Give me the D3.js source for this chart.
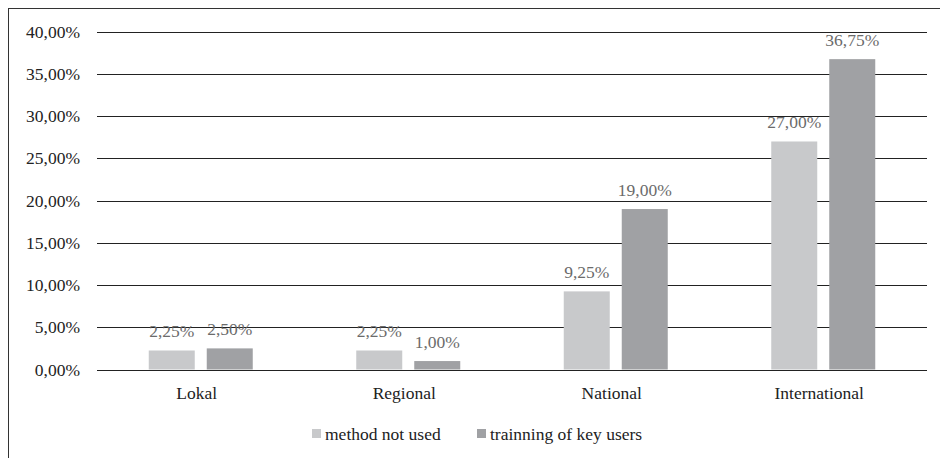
<!DOCTYPE html>
<html>
<head>
<meta charset="utf-8">
<script src="https://cdn.jsdelivr.net/npm/d3@7"></script>
<style>
  body { margin: 0; background: #fff; }
</style>
</head>
<body>
<svg id="chart"></svg>
<script>
// Data
const categories = ['Lokal', 'Regional', 'National', 'International'];
const seriesNames = ['method not used', 'trainning of key users'];
const methodNotUsed = [2.25, 2.25, 9.25, 27.00];
const trainningKeyUsers = [2.50, 1.00, 19.00, 36.75];
const yTicks = [0, 5, 10, 15, 20, 25, 30, 35, 40];

const colors = ['#c8c9cb', '#a0a1a4'];
const width = 940, height = 458;
const fontSize = 17.5;

const svg = d3.select('#chart')
    .attr('width', width)
    .attr('height', height)
    .attr('font-family', 'Liberation Serif')
    .attr('font-size', fontSize);

// Cadre
svg.append('rect')
    .attr('x', 8.5).attr('y', 8.5)
    .attr('width', 940).attr('height', 470)
    .attr('fill', 'none')
    .attr('stroke', '#333')
    .attr('stroke-width', 1);

const x0 = d3.scaleBand().domain(categories).range([97, 927]);
const y = d3.scaleLinear().domain([0, 40]).range([369.5, 31.7]);

// Grille
svg.append('g')
    .selectAll('line')
    .data(yTicks)
    .enter().append('line')
    .attr('x1', 97).attr('x2', 927)
    .attr('y1', d => Math.round(y(d)) + 0.5)
    .attr('y2', d => Math.round(y(d)) + 0.5)
    .attr('stroke', '#222')
    .attr('stroke-width', 1.2);

svg.append('g')
    .selectAll('text')
    .data(yTicks)
    .enter().append('text')
    .attr('x', 80)
    .attr('y', d => y(d) + 6)
    .attr('text-anchor', 'end')
    .attr('font-family', 'Liberation Serif')
    .attr('fill', '#222')
    .text(d => d.toFixed(2).replace('.', ',') + '%');

// Barres
const barW = 46, gap = 12;
const series = [methodNotUsed, trainningKeyUsers];

series.forEach((vals, s) => {
    const g = svg.append('g');
    const bx = (c) => x0(c) + x0.bandwidth() / 2 + (s === 0 ? -gap / 2 - barW : gap / 2);
    g.selectAll('rect')
        .data(categories)
        .enter().append('rect')
        .attr('x', bx)
        .attr('y', (c, i) => y(vals[i]))
        .attr('width', barW)
        .attr('height', (c, i) => y(0) - y(vals[i]))
        .attr('fill', colors[s]);
    g.selectAll('text')
        .data(categories)
        .enter().append('text')
        .attr('x', c => bx(c) + barW / 2)
        .attr('y', (c, i) => y(vals[i]) - 13)
        .attr('text-anchor', 'middle')
        .attr('font-family', 'Liberation Serif')
        .attr('fill', '#6b6b6b')
        .text((c, i) => vals[i].toFixed(2).replace('.', ',') + '%');
});

// Catégories
svg.append('g')
    .selectAll('text')
    .data(categories)
    .enter().append('text')
    .attr('x', c => x0(c) + x0.bandwidth() / 2 - 4)
    .attr('y', 399)
    .attr('text-anchor', 'middle')
    .attr('font-family', 'Liberation Serif')
    .attr('fill', '#222')
    .text(c => c);

// Légende
const legendX = [312, 477];
seriesNames.forEach((name, i) => {
    svg.append('rect')
        .attr('x', legendX[i]).attr('y', 429)
        .attr('width', 9).attr('height', 9)
        .attr('fill', colors[i]);
    svg.append('text')
        .attr('x', legendX[i] + 13).attr('y', 440)
        .attr('font-family', 'Liberation Serif')
        .attr('fill', '#222')
        .text(name);
});
</script>
</body>
</html>
